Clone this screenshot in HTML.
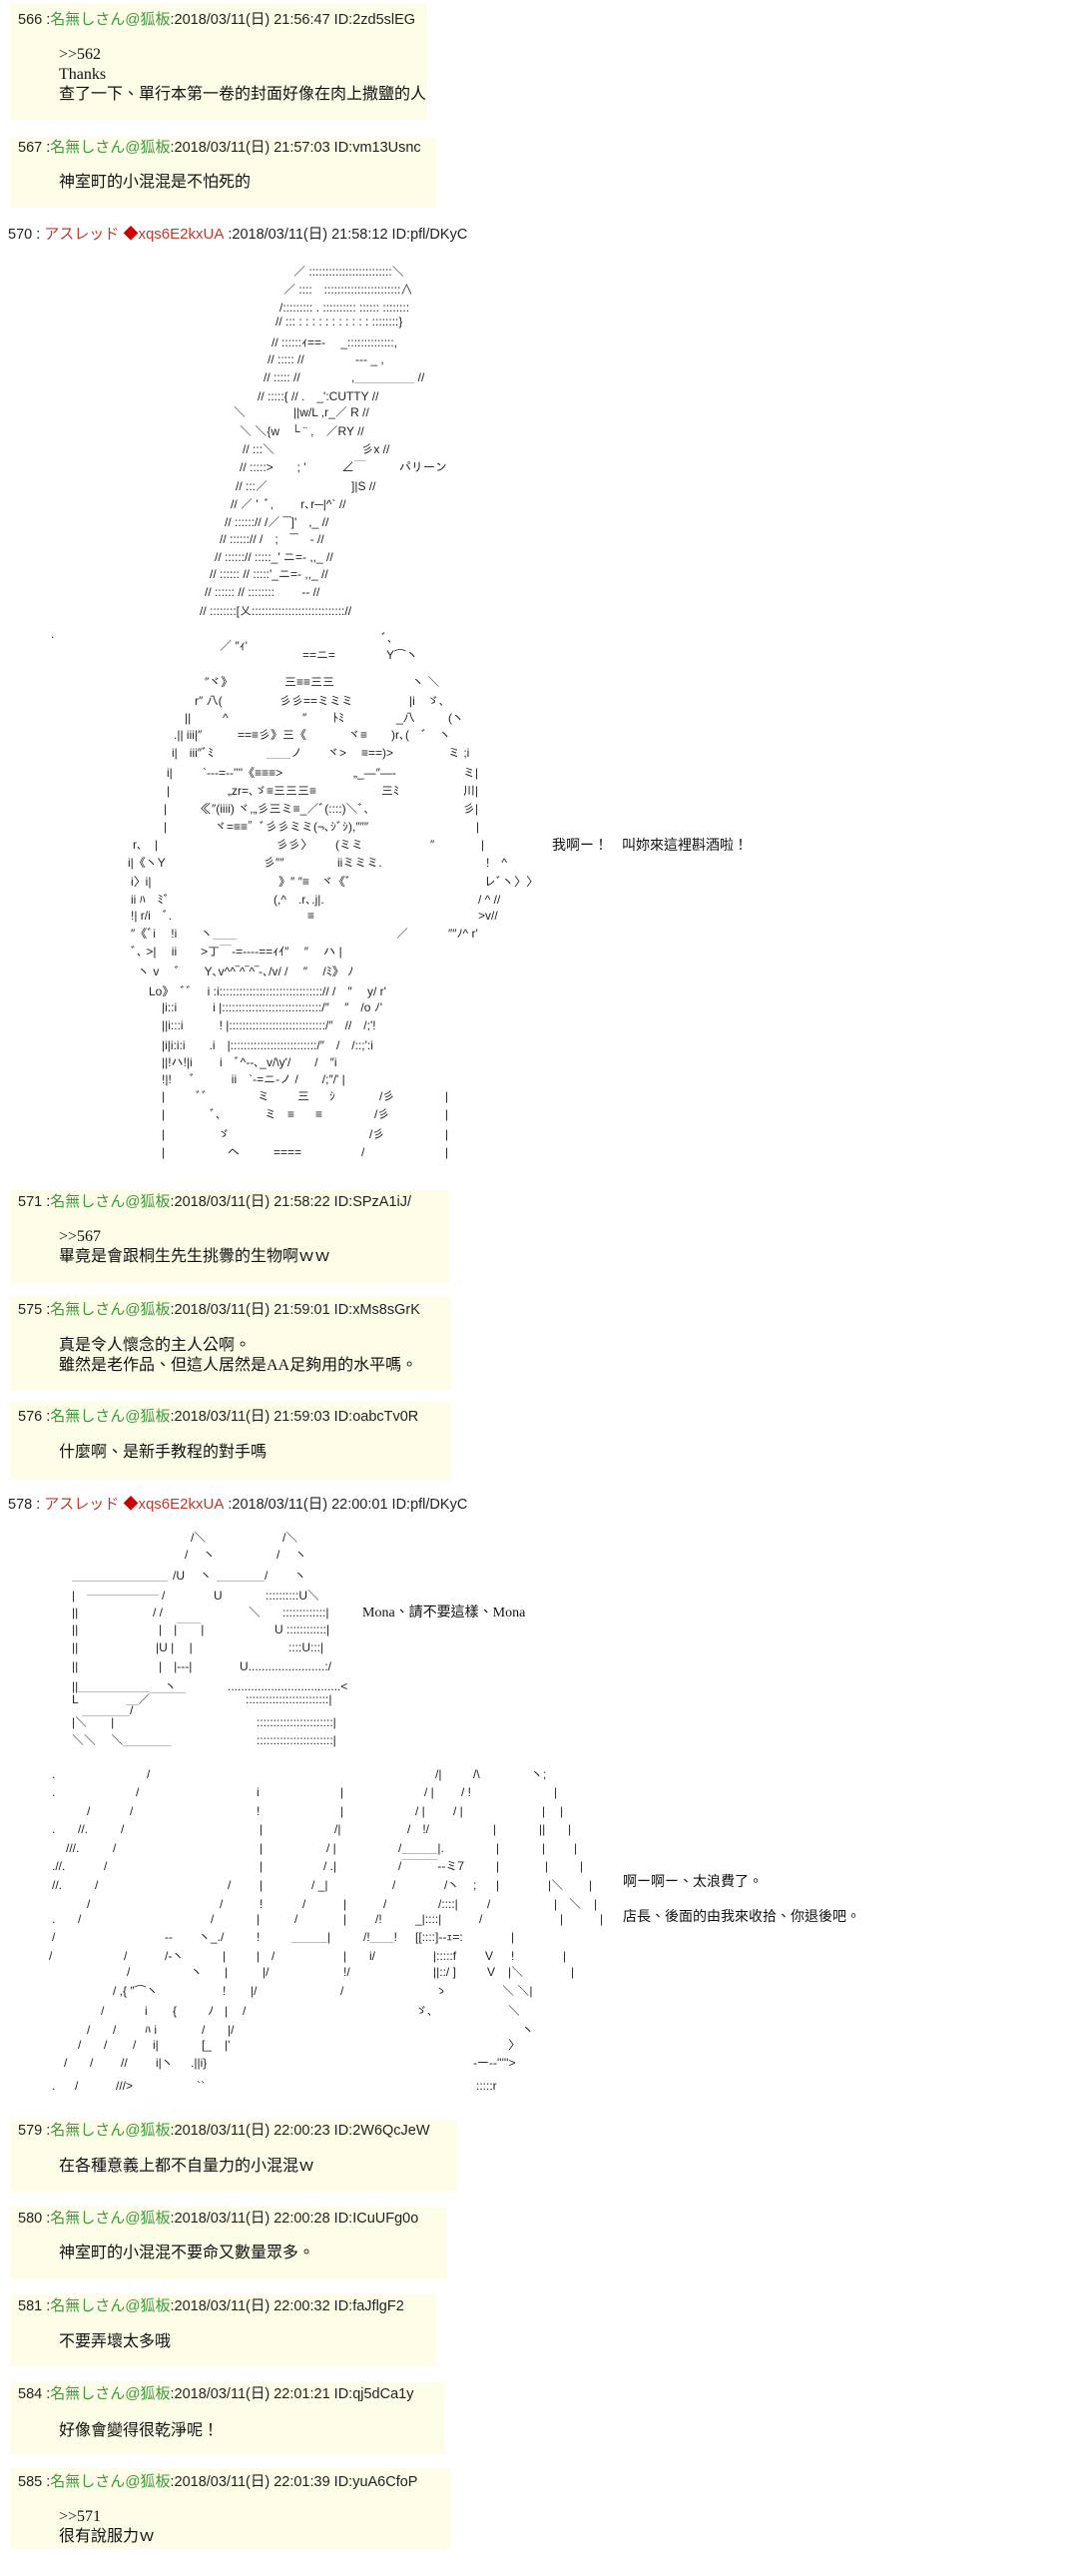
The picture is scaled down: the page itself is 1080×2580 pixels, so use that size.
<!DOCTYPE html>
<html><head><meta charset="utf-8">
<style>
html,body{margin:0;padding:0;background:#fff;}
body{width:1080px;height:2580px;position:relative;overflow:hidden;font-family:"Liberation Sans","Noto Sans CJK TC",sans-serif;color:#222;}
.box{position:absolute;left:10px;background:#fdfde8;}
.h{position:absolute;left:18px;font-size:14.5px;line-height:20px;white-space:pre;color:#222;}
.h .g{color:#3a9a3a;font-size:15px;}
.h .r{color:#c0392b;font-size:15px;}
.h .d{color:#d00000;}
.t{position:absolute;left:59px;font-size:16px;line-height:20px;white-space:pre;color:#111;font-family:"Liberation Serif","Noto Sans CJK TC",serif;}
.aa i{position:absolute;font-style:normal;white-space:pre;font:12px/18px "Liberation Sans","IPAGothic","Noto Sans CJK JP",sans-serif;color:#222;}
.sp{position:absolute;font-size:14px;line-height:20px;white-space:pre;font-family:"Liberation Serif","Noto Sans CJK TC",serif;color:#111;}
</style></head><body>

<!-- 566 -->
<div class="box" style="top:3px;width:418px;height:117px"></div>
<div class="h" style="top:10px">566 :<span class="g">名無しさん@狐板</span>:2018/03/11(日) 21:56:47 ID:2zd5slEG</div>
<div class="t" style="top:45px">&gt;&gt;562
Thanks
查了一下、單行本第一卷的封面好像在肉上撒鹽的人</div>

<!-- 567 -->
<div class="box" style="top:138px;width:427px;height:70px"></div>
<div class="h" style="top:138px">567 :<span class="g">名無しさん@狐板</span>:2018/03/11(日) 21:57:03 ID:vm13Usnc</div>
<div class="t" style="top:173px">神室町的小混混是不怕死的</div>

<!-- 570 -->
<div class="h" style="top:225px;left:8px">570 : <span class="r">アスレッド <span class="d">◆</span>xqs6E2kxUA</span> :2018/03/11(日) 21:58:12 ID:pfl/DKyC</div>

<div class="aa">
<i style="left:294px;top:263px">／ :::::::::::::::::::::::::＼</i>
<i style="left:284px;top:281px">／ ::::　:::::::::::::::::::::::∧</i>
<i style="left:280px;top:299px">/::::::::: . :::::::::: :::::: ::::::::</i>
<i style="left:276px;top:313px">// ::: : : : : : : : : : : : ::::::::}</i>
<i style="left:272px;top:334px">// ::::::ｨ==‐　 _::::::::::::::,</i>
<i style="left:268px;top:351px">// ::::: //　　　　 ‐‐‐ _ ,</i>
<i style="left:264px;top:369px">// ::::: //　　　　 ,＿＿＿＿＿ //</i>
<i style="left:258px;top:388px">// :::::{ // .　_':CUTTY //</i>
<i style="left:234px;top:404px">＼　　　　||w/L ,r_／ R //</i>
<i style="left:240px;top:423px">＼ ＼{w　└ ¨ ,　／RY //</i>
<i style="left:243px;top:441px">// :::＼　　　　　　　 彡x //</i>
<i style="left:240px;top:459px">// :::::>　　; '　　　∠￣</i>
<i style="left:400px;top:459px">パリーン</i>
<i style="left:236px;top:478px">// :::／　　　　　　　]|S //</i>
<i style="left:231px;top:496px">// ／ ' ﾞ,　　 r､r─|^` //</i>
<i style="left:225px;top:514px">// ::::::// /／ ‾‾]'　,_ //</i>
<i style="left:220px;top:531px">// ::::::// /　;　‾‾　‐ //</i>
<i style="left:215px;top:549px">// ::::::// :::::_' ニ=‐ ,,_ //</i>
<i style="left:210px;top:566px">// :::::: // :::::'_ニ=‐ ,,_ //</i>
<i style="left:205px;top:584px">// :::::: // ::::::::　　 ‐‐ //</i>
<i style="left:200px;top:603px">// ::::::::[乂:::::::::::::::::::::::::::://</i>

<i style="left:51px;top:626px">.</i>
<i style="left:220px;top:638px">／ ″ｨ'</i><i style="left:382px;top:630px">ﾞ､</i>
<i style="left:303px;top:647px">==ニ=</i><i style="left:387px;top:647px">Y⌒ヽ</i>
<i style="left:205px;top:674px">″ヾ》</i><i style="left:285px;top:674px">三≡≡三三</i><i style="left:413px;top:674px">ヽ ＼</i>
<i style="left:195px;top:693px">r″ 八(</i><i style="left:280px;top:693px">彡彡==ミミミ</i><i style="left:410px;top:693px">|i　ゞ､</i>
<i style="left:185px;top:710px">||</i><i style="left:223px;top:710px">^</i><i style="left:303px;top:710px">″</i><i style="left:333px;top:710px">ﾄﾐ</i><i style="left:397px;top:710px">_八</i><i style="left:449px;top:710px">(ヽ</i>
<i style="left:174px;top:727px">.|| iii|″</i><i style="left:238px;top:727px">==≡彡》三《</i><i style="left:349px;top:727px">ヾ≡</i><i style="left:392px;top:727px">)r､(　ﾞ　ヽ</i>
<i style="left:172px;top:745px">i|　iii″ﾞﾐ</i><i style="left:267px;top:745px">＿＿ノ</i><i style="left:328px;top:745px">ヾ&gt;</i><i style="left:362px;top:745px">≡==)&gt;</i><i style="left:449px;top:745px">ミ ;i</i>
<i style="left:167px;top:765px">i|</i><i style="left:203px;top:765px">`‐‐‐=‐‐''''《≡≡≡&gt;</i><i style="left:354px;top:765px">„_―″―‐</i><i style="left:464px;top:765px">ミ|</i>
<i style="left:167px;top:783px">|</i><i style="left:228px;top:783px">„zr=､ゞ≡三三三≡</i><i style="left:382px;top:783px">三ﾐ</i><i style="left:464px;top:783px">川|</i>
<i style="left:164px;top:801px">|</i><i style="left:200px;top:801px">≪″(iiii) ヾ,„彡三ミ≡_／ﾞ(::::)＼ﾞ､</i><i style="left:464px;top:801px">彡|</i>
<i style="left:164px;top:819px">|</i><i style="left:215px;top:819px">ヾ=≡≡″ﾞ彡彡ミミ(¬､ｼﾞｼ),″″″</i><i style="left:477px;top:819px">|</i>
<i style="left:133px;top:837px">r､　|</i><i style="left:277px;top:837px">彡彡〉</i><i style="left:336px;top:837px">(ミミ</i><i style="left:431px;top:837px">″</i><i style="left:482px;top:837px">|</i>
<i style="left:128px;top:855px">i|《ヽY</i><i style="left:264px;top:855px">彡″″</i><i style="left:338px;top:855px">iiミミミ.</i><i style="left:487px;top:855px">!　^</i>
<i style="left:131px;top:874px">i〉i|</i><i style="left:279px;top:874px">》″ ″≡　ヾ《ﾞ</i><i style="left:485px;top:874px">レﾞヽ〉〉</i>
<i style="left:131px;top:892px">ii ﾊ　ﾐﾞ</i><i style="left:274px;top:892px">(,^　.r､.j|.</i><i style="left:479px;top:892px">/ ^ //</i>
<i style="left:131px;top:908px">!| r/i　ﾞ.</i><i style="left:308px;top:908px">≡</i><i style="left:479px;top:908px">&gt;v//</i>
<i style="left:131px;top:926px">″《ﾞi　 !i　　ヽ＿＿</i><i style="left:397px;top:926px">／</i><i style="left:449px;top:926px">″″ﾉ^ r'</i>
<i style="left:131px;top:944px">ﾞ､ &gt;|　 ii　　&gt;丁￣‐=‐‐‐‐==ｨｲ″　 ″　 ハ |</i>
<i style="left:138px;top:964px">ヽ v　 ﾞ　　Y､v^^‾^‾^‾‐､/v/ /　 ″　 /ﾐ》 ﾉ</i>
<i style="left:149px;top:984px">Lo》 ﾞﾞ　 i :i:::::::::::::::::::::::::::::::// /　″　 y/ r'</i>
<i style="left:162px;top:1000px">|i::i　　　i |::::::::::::::::::::::::::::::/″　 ″　/o ﾉ'</i>
<i style="left:162px;top:1018px">||i:::i　　　! |:::::::::::::::::::::::::::::/″　//　/;'!</i>
<i style="left:162px;top:1038px">|i|i:i:i　　.i　|::::::::::::::::::::::::::/″　/　/::;':i</i>
<i style="left:162px;top:1055px">||!ハ!|i　　 i　ﾞ^‐‐､_v/\y'/　　/　″i</i>
<i style="left:162px;top:1072px">!|!　 ﾞ　　　ii　`‐=ニ‐ノ /　　/;″/' |</i>
<i style="left:162px;top:1089px">|</i><i style="left:196px;top:1089px">ﾞﾞ</i><i style="left:258px;top:1089px">ミ</i><i style="left:298px;top:1089px">三</i><i style="left:330px;top:1089px">ｼ</i><i style="left:380px;top:1089px">/彡</i><i style="left:446px;top:1089px">|</i>
<i style="left:162px;top:1107px">|</i><i style="left:210px;top:1107px">ﾞ､</i><i style="left:265px;top:1107px">ミ</i><i style="left:288px;top:1107px">≡</i><i style="left:316px;top:1107px">≡</i><i style="left:375px;top:1107px">/彡</i><i style="left:446px;top:1107px">|</i>
<i style="left:162px;top:1127px">|</i><i style="left:218px;top:1127px">ゞ</i><i style="left:370px;top:1127px">/彡</i><i style="left:446px;top:1127px">|</i>
<i style="left:162px;top:1145px">|</i><i style="left:228px;top:1145px">ヘ</i><i style="left:274px;top:1145px">====</i><i style="left:362px;top:1145px">/</i><i style="left:446px;top:1145px">|</i>
</div>
<div class="sp" style="left:553px;top:838px">我啊ー！　叫妳來這裡斟酒啦！</div>

<!-- 571 -->
<div class="box" style="top:1192px;width:440px;height:93px"></div>
<div class="h" style="top:1194px">571 :<span class="g">名無しさん@狐板</span>:2018/03/11(日) 21:58:22 ID:SPzA1iJ/</div>
<div class="t" style="top:1229px">&gt;&gt;567
畢竟是會跟桐生先生挑釁的生物啊ｗｗ</div>

<!-- 575 -->
<div class="box" style="top:1298px;width:442px;height:94px"></div>
<div class="h" style="top:1302px">575 :<span class="g">名無しさん@狐板</span>:2018/03/11(日) 21:59:01 ID:xMs8sGrK</div>
<div class="t" style="top:1338px">真是令人懷念的主人公啊。
雖然是老作品、但這人居然是AA足夠用的水平嗎。</div>

<!-- 576 -->
<div class="box" style="top:1403px;width:442px;height:79px"></div>
<div class="h" style="top:1409px">576 :<span class="g">名無しさん@狐板</span>:2018/03/11(日) 21:59:03 ID:oabcTv0R</div>
<div class="t" style="top:1445px">什麼啊、是新手教程的對手嗎</div>

<!-- 578 -->
<div class="h" style="top:1497px;left:8px">578 : <span class="r">アスレッド <span class="d">◆</span>xqs6E2kxUA</span> :2018/03/11(日) 22:00:01 ID:pfl/DKyC</div>

<div class="aa">
<i style="left:191px;top:1531px">/＼</i><i style="left:283px;top:1531px">/＼</i>
<i style="left:185px;top:1548px">/　 ヽ</i><i style="left:277px;top:1548px">/　 ヽ</i>
<i style="left:72px;top:1569px">＿＿＿＿＿＿＿＿</i><i style="left:173px;top:1569px">/U　 ヽ</i><i style="left:217px;top:1569px">＿＿＿＿/</i><i style="left:295px;top:1569px">ヽ</i>
<i style="left:72px;top:1589px">|</i><i style="left:87px;top:1583px">＿＿＿＿＿＿</i><i style="left:162px;top:1589px">/</i><i style="left:214px;top:1589px">U</i><i style="left:266px;top:1589px">::::::::::U＼</i>
<i style="left:72px;top:1606px">||</i><i style="left:153px;top:1606px">/ /</i><i style="left:249px;top:1606px">＼</i><i style="left:283px;top:1606px">:::::::::::::|</i>
<i style="left:72px;top:1623px">||</i><i style="left:159px;top:1623px">|　|￣￣|</i><i style="left:275px;top:1623px">U ::::::::::::|</i>
<i style="left:72px;top:1641px">||</i><i style="left:156px;top:1641px">|U |　 |</i><i style="left:289px;top:1641px">::::U:::|</i>
<i style="left:72px;top:1660px">||</i><i style="left:159px;top:1660px">|　|‐‐‐|</i><i style="left:240px;top:1660px">U.......................:/</i>
<i style="left:72px;top:1680px">||＿＿＿＿＿＿</i><i style="left:165px;top:1680px">ヽ</i><i style="left:228px;top:1680px">..................................&lt;</i>
<i style="left:72px;top:1693px">L　　　　＿／￣￣￣</i><i style="left:246px;top:1693px">:::::::::::::::::::::::::|</i>
<i style="left:82px;top:1704px">＿＿＿＿/</i>
<i style="left:72px;top:1716px">|＼　　|</i><i style="left:257px;top:1716px">:::::::::::::::::::::::|</i>
<i style="left:72px;top:1734px">＼＼　 ＼＿＿＿＿</i><i style="left:257px;top:1734px">:::::::::::::::::::::::|</i>

<i style="left:52px;top:1768px">.</i><i style="left:147px;top:1768px">/</i><i style="left:436px;top:1768px">/|</i><i style="left:474px;top:1768px">/\</i><i style="left:532px;top:1768px">ヽ;</i>
<i style="left:52px;top:1786px">.</i><i style="left:136px;top:1786px">/</i><i style="left:257px;top:1786px">i</i><i style="left:341px;top:1786px">|</i><i style="left:425px;top:1786px">/ |</i><i style="left:462px;top:1786px">/ !</i><i style="left:555px;top:1786px">|</i>
<i style="left:87px;top:1805px">/</i><i style="left:130px;top:1805px">/</i><i style="left:257px;top:1805px">!</i><i style="left:341px;top:1805px">|</i><i style="left:416px;top:1805px">/ |</i><i style="left:454px;top:1805px">/ |</i><i style="left:543px;top:1805px">|</i><i style="left:561px;top:1805px">|</i>
<i style="left:52px;top:1823px">.</i><i style="left:78px;top:1823px">//.</i><i style="left:121px;top:1823px">/</i><i style="left:260px;top:1823px">|</i><i style="left:335px;top:1823px">/|</i><i style="left:408px;top:1823px">/　!/</i><i style="left:494px;top:1823px">|</i><i style="left:540px;top:1823px">||</i><i style="left:569px;top:1823px">|</i>
<i style="left:66px;top:1842px">///.</i><i style="left:113px;top:1842px">/</i><i style="left:260px;top:1842px">|</i><i style="left:327px;top:1842px">/ |</i><i style="left:399px;top:1842px">/＿＿＿|.</i><i style="left:497px;top:1842px">|</i><i style="left:543px;top:1842px">|</i><i style="left:575px;top:1842px">|</i>
<i style="left:52px;top:1860px">.//.</i><i style="left:104px;top:1860px">/</i><i style="left:260px;top:1860px">|</i><i style="left:324px;top:1860px">/ .|</i><i style="left:399px;top:1860px">/￣￣￣‐‐ミ7</i><i style="left:497px;top:1860px">|</i><i style="left:546px;top:1860px">|</i><i style="left:581px;top:1860px">|</i>
<i style="left:52px;top:1879px">//.</i><i style="left:95px;top:1879px">/</i><i style="left:228px;top:1879px">/</i><i style="left:260px;top:1879px">|</i><i style="left:312px;top:1879px">/ _|</i><i style="left:393px;top:1879px">/</i><i style="left:445px;top:1879px">/ヽ</i><i style="left:474px;top:1879px">;</i><i style="left:497px;top:1879px">|</i><i style="left:549px;top:1879px">|＼</i><i style="left:590px;top:1879px">|</i>
<i style="left:87px;top:1898px">/</i><i style="left:220px;top:1898px">/</i><i style="left:260px;top:1898px">!</i><i style="left:303px;top:1898px">/</i><i style="left:344px;top:1898px">|</i><i style="left:384px;top:1898px">/</i><i style="left:439px;top:1898px">/::::|</i><i style="left:488px;top:1898px">/</i><i style="left:555px;top:1898px">|　＼</i><i style="left:595px;top:1898px">|</i>
<i style="left:52px;top:1913px">.</i><i style="left:78px;top:1913px">/</i><i style="left:211px;top:1913px">/</i><i style="left:257px;top:1913px">|</i><i style="left:295px;top:1913px">/</i><i style="left:344px;top:1913px">|</i><i style="left:376px;top:1913px">/!</i><i style="left:416px;top:1913px">_|::::|</i><i style="left:480px;top:1913px">/</i><i style="left:561px;top:1913px">|</i><i style="left:601px;top:1913px">|</i>
<i style="left:52px;top:1931px">/</i><i style="left:165px;top:1931px">-‐</i><i style="left:199px;top:1931px">ヽ_./</i><i style="left:257px;top:1931px">!</i><i style="left:292px;top:1931px">＿＿＿|</i><i style="left:364px;top:1931px">/!＿＿!</i><i style="left:416px;top:1931px">[[::::]‐‐ｪ=:</i><i style="left:512px;top:1931px">|</i>
<i style="left:49px;top:1950px">/</i><i style="left:124px;top:1950px">/</i><i style="left:165px;top:1950px">/‐ヽ</i><i style="left:223px;top:1950px">|</i><i style="left:257px;top:1950px">|</i><i style="left:272px;top:1950px">/</i><i style="left:344px;top:1950px">|</i><i style="left:370px;top:1950px">i/</i><i style="left:434px;top:1950px">|:::::f</i><i style="left:486px;top:1950px">V</i><i style="left:512px;top:1950px">!</i><i style="left:564px;top:1950px">|</i>
<i style="left:127px;top:1966px">/</i><i style="left:191px;top:1966px">ヽ</i><i style="left:225px;top:1966px">|</i><i style="left:263px;top:1966px">|/</i><i style="left:344px;top:1966px">!/</i><i style="left:434px;top:1966px">||::/ ]</i><i style="left:488px;top:1966px">V</i><i style="left:509px;top:1966px">|＼</i><i style="left:572px;top:1966px">|</i>
<i style="left:113px;top:1985px">/ ,{ ″⌒ヽ</i><i style="left:223px;top:1985px">!</i><i style="left:251px;top:1985px">|/</i><i style="left:341px;top:1985px">/</i><i style="left:436px;top:1985px">ゝ</i><i style="left:503px;top:1985px">＼ ＼|</i>
<i style="left:101px;top:2005px">/</i><i style="left:145px;top:2005px">i</i><i style="left:173px;top:2005px">{</i><i style="left:208px;top:2005px">ﾉ</i><i style="left:225px;top:2005px">|</i><i style="left:243px;top:2005px">/</i><i style="left:416px;top:2005px">ゞ､</i><i style="left:509px;top:2005px">＼</i>
<i style="left:87px;top:2024px">/</i><i style="left:113px;top:2024px">/</i><i style="left:145px;top:2024px">ﾊ i</i><i style="left:202px;top:2024px">/</i><i style="left:228px;top:2024px">|/</i><i style="left:523px;top:2024px">ヽ</i>
<i style="left:78px;top:2039px">/</i><i style="left:104px;top:2039px">/</i><i style="left:133px;top:2039px">/</i><i style="left:153px;top:2039px">i|</i><i style="left:202px;top:2039px">[_</i><i style="left:225px;top:2039px">|'</i><i style="left:509px;top:2039px">〉</i>
<i style="left:64px;top:2057px">/</i><i style="left:90px;top:2057px">/</i><i style="left:121px;top:2057px">//</i><i style="left:156px;top:2057px">i|ヽ</i><i style="left:191px;top:2057px">.||i}</i><i style="left:474px;top:2057px">‐ー‐‐'''''&gt;</i>
<i style="left:52px;top:2080px">.</i><i style="left:75px;top:2080px">/</i><i style="left:116px;top:2080px">///&gt;</i><i style="left:197px;top:2080px">``</i><i style="left:477px;top:2080px">:::::r</i>
</div>
<div class="sp" style="left:363px;top:1606px">Mona、請不要這樣、Mona</div>
<div class="sp" style="left:624px;top:1876px">啊ー啊ー、太浪費了。</div>
<div class="sp" style="left:624px;top:1911px">店長、後面的由我來收拾、你退後吧。</div>

<!-- 579 -->
<div class="box" style="top:2123px;width:448px;height:72px"></div>
<div class="h" style="top:2124px">579 :<span class="g">名無しさん@狐板</span>:2018/03/11(日) 22:00:23 ID:2W6QcJeW</div>
<div class="t" style="top:2160px">在各種意義上都不自量力的小混混ｗ</div>

<!-- 580 -->
<div class="box" style="top:2210px;width:438px;height:73px"></div>
<div class="h" style="top:2212px">580 :<span class="g">名無しさん@狐板</span>:2018/03/11(日) 22:00:28 ID:ICuUFg0o</div>
<div class="t" style="top:2247px">神室町的小混混不要命又數量眾多。</div>

<!-- 581 -->
<div class="box" style="top:2297px;width:427px;height:73px"></div>
<div class="h" style="top:2300px">581 :<span class="g">名無しさん@狐板</span>:2018/03/11(日) 22:00:32 ID:faJflgF2</div>
<div class="t" style="top:2336px">不要弄壞太多哦</div>

<!-- 584 -->
<div class="box" style="top:2385px;width:436px;height:73px"></div>
<div class="h" style="top:2388px">584 :<span class="g">名無しさん@狐板</span>:2018/03/11(日) 22:01:21 ID:qj5dCa1y</div>
<div class="t" style="top:2425px">好像會變得很乾淨呢！</div>

<!-- 585 -->
<div class="box" style="top:2472px;width:442px;height:81px"></div>
<div class="h" style="top:2476px">585 :<span class="g">名無しさん@狐板</span>:2018/03/11(日) 22:01:39 ID:yuA6CfoP</div>
<div class="t" style="top:2511px">&gt;&gt;571
很有說服力ｗ</div>

</body></html>
